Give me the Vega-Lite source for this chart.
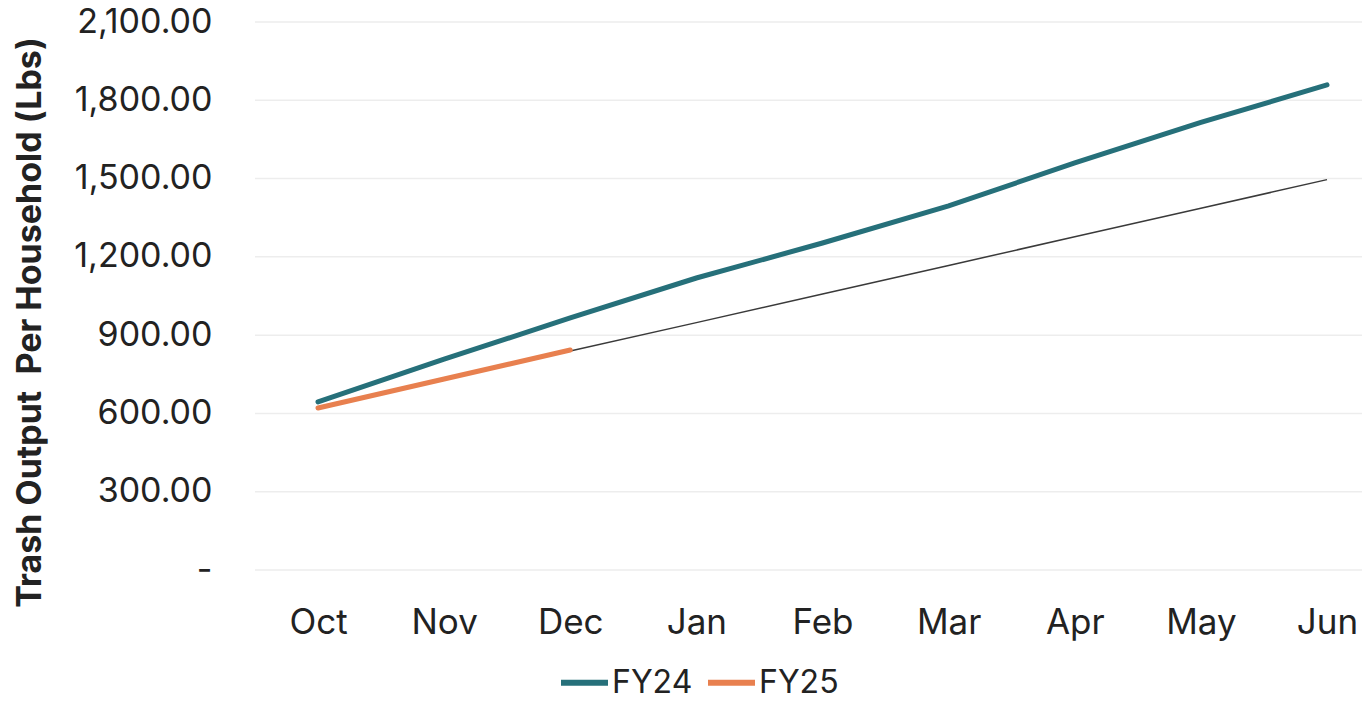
{
  "$schema": "https://vega.github.io/schema/vega-lite/v6.json",
  "width": 1107,
  "height": 548,
  "autosize": "none",
  "padding": {"left": 255, "top": 22, "right": 0, "bottom": 135},
  "background": "white",
  "config": {"view": {"stroke": null}, "font": "Inter"},
  "datasets": {
    "grid": [
      {"value": 0}, {"value": 300}, {"value": 600}, {"value": 900},
      {"value": 1200}, {"value": 1500}, {"value": 1800}, {"value": 2100}
    ],
    "series": [
      {"month": "Oct", "series": "FY24", "value": 644},
      {"month": "Nov", "series": "FY24", "value": 808},
      {"month": "Dec", "series": "FY24", "value": 966},
      {"month": "Jan", "series": "FY24", "value": 1119},
      {"month": "Feb", "series": "FY24", "value": 1253},
      {"month": "Mar", "series": "FY24", "value": 1395},
      {"month": "Apr", "series": "FY24", "value": 1560},
      {"month": "May", "series": "FY24", "value": 1715},
      {"month": "Jun", "series": "FY24", "value": 1859},
      {"month": "Oct", "series": "FY25", "value": 621},
      {"month": "Nov", "series": "FY25", "value": 732},
      {"month": "Dec", "series": "FY25", "value": 843},
      {"month": "Oct", "series": "Trend", "value": 620},
      {"month": "Nov", "series": "Trend", "value": 729},
      {"month": "Dec", "series": "Trend", "value": 839},
      {"month": "Jan", "series": "Trend", "value": 948},
      {"month": "Feb", "series": "Trend", "value": 1058},
      {"month": "Mar", "series": "Trend", "value": 1167},
      {"month": "Apr", "series": "Trend", "value": 1277},
      {"month": "May", "series": "Trend", "value": 1386},
      {"month": "Jun", "series": "Trend", "value": 1496}
    ]
  },
  "encoding": {
    "y": {
      "field": "value",
      "type": "quantitative",
      "scale": {"domain": [0, 2100], "nice": false},
      "axis": {
        "values": [0, 300, 600, 900, 1200, 1500, 1800, 2100],
        "labelExpr": "datum.value == 0 ? '-\u00a0\u00a0' : format(datum.value, ',.2f')",
        "labelFontSize": 34,
        "labelColor": "#222222",
        "labelPadding": 43,
        "ticks": false,
        "domain": false,
        "grid": false,
        "title": "Trash Output\u00a0 Per Household (Lbs)",
        "titleFontSize": 34,
        "titleFontWeight": "bold",
        "titleColor": "#222222",
        "titlePadding": 26,
        "titleY": 300
      }
    }
  },
  "layer": [
    {
      "data": {"name": "grid"},
      "mark": {"type": "rule", "color": "#ededed", "strokeWidth": 1.5}
    },
    {
      "data": {"name": "series"},
      "encoding": {
        "x": {
          "field": "month",
          "type": "ordinal",
          "sort": ["Oct", "Nov", "Dec", "Jan", "Feb", "Mar", "Apr", "May", "Jun"],
          "scale": {"type": "point", "range": [63, 1072], "padding": 0},
          "axis": {
            "title": null,
            "labelAngle": 0,
            "labelFontSize": 35,
            "labelColor": "#222222",
            "labelPadding": 35,
            "ticks": false,
            "domain": false,
            "grid": false
          }
        }
      },
      "layer": [
        {
          "transform": [{"filter": "datum.series == 'Trend'"}],
          "mark": {"type": "line", "color": "#3a3a3a", "strokeWidth": 1.5}
        },
        {
          "transform": [{"filter": "datum.series != 'Trend'"}],
          "mark": {"type": "line", "strokeWidth": 5, "strokeCap": "round"},
          "encoding": {
            "color": {
              "field": "series",
              "type": "nominal",
              "scale": {"domain": ["FY24", "FY25"], "range": ["#26707a", "#e8804f"]},
              "legend": {
                "title": null,
                "orient": "none",
                "legendX": 303,
                "legendY": 634,
                "direction": "horizontal",
                "padding": 0,
                "symbolType": "stroke",
                "symbolSize": 2209,
                "symbolStrokeWidth": 6,
                "labelFontSize": 32,
                "labelColor": "#222222",
                "labelOffset": 1,
                "columnPadding": 3
              }
            }
          }
        }
      ]
    }
  ]
}
